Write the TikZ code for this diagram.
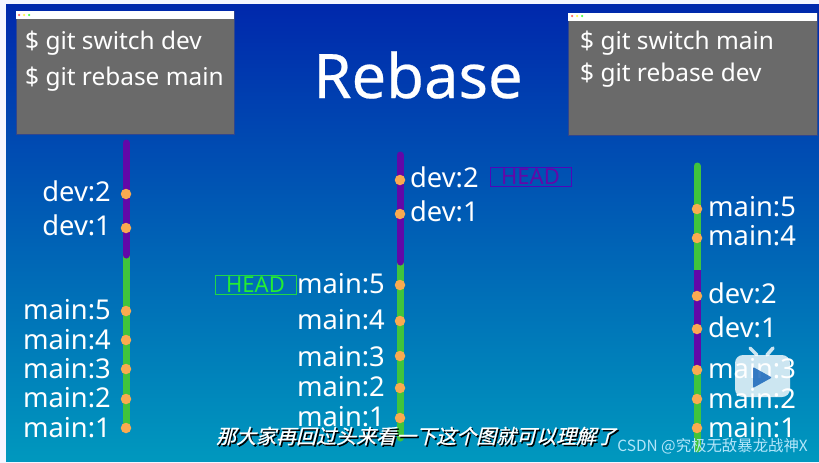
\documentclass[tikz,border=0pt]{standalone}
\usepackage{fontspec}
\usepackage{tikz}
\usepackage{xcolor}
\setmainfont{Noto Sans}
\newfontfamily\cjk{Noto Sans CJK SC}
\newfontfamily\cjkbold[FakeBold=0.6]{Noto Sans CJK SC}
\newfontfamily\heavy[FakeBold=0.35]{Noto Sans}
\definecolor{devpurple}{RGB}{98,8,168}
\definecolor{maingreen}{RGB}{64,196,60}
\definecolor{headgreen}{RGB}{36,238,50}
\definecolor{dotorange}{RGB}{250,170,80}
\definecolor{termgray}{RGB}{106,106,106}
\definecolor{skytop}{RGB}{0,40,172}
\definecolor{skybottom}{RGB}{0,152,190}

\begin{document}
\begin{tikzpicture}[x=1pt,y=-1pt,
    term/.style={rectangle, draw=termgray!45!skytop, fill=termgray, inner sep=0pt, anchor=north west},
    bar/.style={rectangle, fill=white, inner sep=0pt, anchor=north west},
    cmd/.style={anchor=west, text=white, inner sep=0pt, font=\fontsize{24.4}{24}\selectfont},
    commit/.style={circle, fill=dotorange, inner sep=0pt, minimum size=10.5pt},
    lab/.style={text=white, inner sep=0pt, font=\fontsize{27.3}{27}\selectfont},
    head/.style={rectangle, draw, line width=0.8pt, inner sep=0pt, minimum width=81pt, minimum height=19pt, font=\fontsize{22}{22}\selectfont},
    devline/.style={devpurple, line width=7pt, line cap=round},
    mainline/.style={maingreen, line width=7pt, line cap=round}]

    \useasboundingbox (0,0) rectangle (819,463);
    \fill[white!96!blue] (0,0) rectangle (819,463);
    \shade[top color=skytop, bottom color=skybottom] (6,4) rectangle (819,461);

    \node[font=\heavy\fontsize{61.5}{61}\selectfont, text=white, inner sep=0pt] (title) at (418,75) {Rebase};

    % terminals
    \node[term, minimum width=218pt, minimum height=123pt] (termA) at (16,11) {};
    \node[bar, minimum width=218pt, minimum height=8pt] (barA) at (16,11) {};
    \node[cmd] (cmdA1) at (25,43) {\$ git switch dev};
    \node[cmd] (cmdA2) at (25,79) {\$ git rebase main};
    \node[term, minimum width=249pt, minimum height=122pt] (termB) at (568,13) {};
    \node[bar, minimum width=249pt, minimum height=8pt] (barB) at (568,13) {};
    \node[cmd] (cmdB1) at (580,43) {\$ git switch main};
    \node[cmd] (cmdB2) at (580,75) {\$ git rebase dev};

    \foreach \n/\c/\x in {r/red!60/19, y/yellow!70/24, g/green!70/29} {
        \node[circle, fill=\c, inner sep=0pt, minimum size=2.5pt] (dotA\n) at (\x,15) {};
        \node[circle, fill=\c, inner sep=0pt, minimum size=2.5pt] (dotB\n) at (553+\x,16) {};
    }

    % left branch
    \coordinate (a0) at (126,143);
    \coordinate (a1) at (126,255);
    \coordinate (a2) at (126,429);
    \draw[mainline] (a1) -- (a2);
    \draw[devline] (a0) -- (a1);
    \foreach \n/\t/\y/\ly in {a3/dev:2/194/191, a4/dev:1/228/225, a5/main:5/311/310, a6/main:4/340/340, a7/main:3/369/369, a8/main:2/399/398, a9/main:1/428/428} {
        \node[commit] (\n) at (126,\y) {};
        \node[lab, anchor=east] (\n t) at (111,\ly) {\t};
    }

    % middle branch
    \coordinate (b0) at (400,155);
    \coordinate (b1) at (400,262);
    \coordinate (b2) at (400,438);
    \draw[mainline] (b1) -- (b2);
    \draw[devline] (b0) -- (b1);
    \foreach \n/\t/\y/\ly in {b3/dev:2/180/177, b4/dev:1/214/211} {
        \node[commit] (\n) at (400,\y) {};
        \node[lab, anchor=west] (\n t) at (410,\ly) {\t};
    }
    \foreach \n/\t/\y/\ly in {b5/main:5/285/284, b6/main:4/321/320, b7/main:3/356/357, b8/main:2/388/387, b9/main:1/418/417} {
        \node[commit] (\n) at (400,\y) {};
        \node[lab, anchor=east] (\n t) at (385,\ly) {\t};
    }
    \node[head, draw=devpurple!80!blue, text=devpurple] (headB) at (530.5,176.5) {HEAD};
    \node[head, draw=headgreen!90!blue, text=headgreen] (headA) at (255.5,284.5) {HEAD};

    % right branch
    \coordinate (c0) at (697,166);
    \coordinate (c1) at (697,270);
    \coordinate (c2) at (697,368);
    \coordinate (c3) at (697,449);
    \draw[mainline] (c2) -- (c3);
    \draw[mainline] (c0) -- (c1);
    \draw[devpurple, line width=7pt] (c1) -- (c2);
    \foreach \n/\t/\y/\ly in {c4/main:5/209/207, c5/main:4/238/236, c6/dev:2/296/293, c7/dev:1/329/327, c8/main:3/370/369, c9/main:2/399/399, c10/main:1/428/428} {
        \node[commit] (\n) at (697,\y) {};
        \node[lab, anchor=west] (\n t) at (708,\ly) {\t};
    }

    % player badge
    \draw[white, opacity=0.8, line width=3.5pt, line cap=round] (750,348) -- (757,355) (773,348) -- (767,355);
    \node[rectangle, rounded corners=8pt, fill=white, opacity=0.8, minimum width=55pt, minimum height=42pt, inner sep=0pt] (badge) at (762.5,376) {};
    \fill[skytop!60!skybottom, opacity=0.75, rounded corners=1pt] (753,367) -- (772,377.5) -- (753,388) -- cycle;

    % subtitle and mark
    \node[text=black, inner sep=0pt, font=\cjkbold\fontsize{20}{20}\selectfont, xslant=0.25] (subS) at (419.5,437.5) {那大家再回过头来看一下这个图就可以理解了};
    \node[text=white, inner sep=0pt, font=\cjkbold\fontsize{20}{20}\selectfont, xslant=0.25] (sub) at (418,436) {那大家再回过头来看一下这个图就可以理解了};
    \node[text=white!70!cyan, inner sep=0pt, anchor=east, font=\cjk\fontsize{15.4}{15}\selectfont] (mark) at (808,446) {CSDN @究极无敌暴龙战神X};
\end{tikzpicture}
\end{document}
